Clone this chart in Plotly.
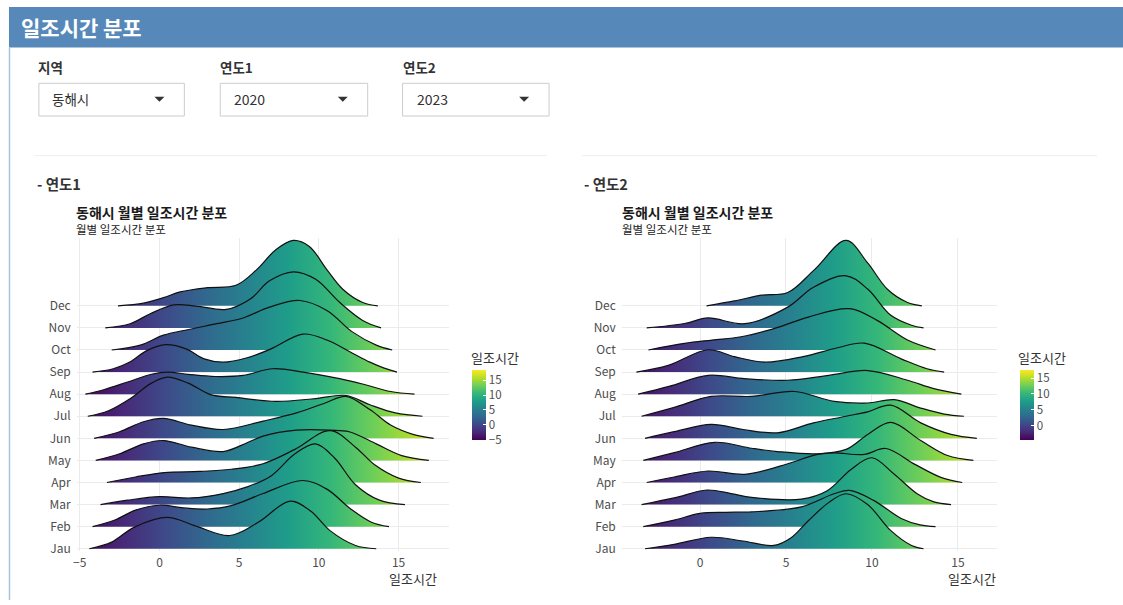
import plotly.graph_objects as go

W, H = 1123, 605
FONT = "Noto Sans CJK KR, Noto Sans, sans-serif"

months = ["Jau", "Feb", "Mar", "Apr", "May", "Jun", "Jul", "Aug", "Sep", "Oct", "Nov", "Dec"]

# density ridges: (sunshine hours, ridge height in row units)
r20_jau = [(-4.4, 0), (-3.0, 0.3), (-1.6, 0.97), (0.5, 1.42), (2.2, 1.05), (4.4, 0.6), (6.2, 1.2), (8.2, 2.16), (9.5, 1.7), (10.7, 0.82), (12.3, 0.15), (13.6, 0)]
r20_feb = [(-4.2, 0), (-2.8, 0.3), (-1.5, 0.75), (0.0, 0.97), (1.5, 0.85), (3.0, 0.8), (4.5, 0.95), (6.5, 1.5), (9.0, 2.09), (10.5, 1.7), (12.0, 0.8), (13.3, 0.2), (14.4, 0)]
r20_mar = [(-3.7, 0), (-2.0, 0.2), (0.0, 0.36), (2.0, 0.3), (4.0, 0.5), (5.5, 0.8), (7.0, 1.3), (8.5, 2.3), (9.8, 2.75), (11.0, 2.1), (12.3, 0.9), (13.8, 0.2), (15.4, 0)]
r20_apr = [(-3.3, 0), (-1.5, 0.25), (0.3, 0.45), (2.5, 0.5), (4.5, 0.6), (6.5, 0.85), (8.5, 1.5), (10.7, 2.35), (12.3, 1.6), (13.5, 0.8), (15.0, 0.2), (16.4, 0)]
r20_may = [(-4.0, 0), (-2.5, 0.3), (-1.0, 0.75), (0.25, 0.9), (2.0, 0.6), (4.0, 0.4), (5.5, 0.8), (6.5, 1.1), (8.6, 1.37), (10.7, 1.37), (11.9, 1.3), (13.6, 0.75), (15.2, 0.22), (16.9, 0)]
r20_jun = [(-4.1, 0), (-2.5, 0.3), (-1.0, 0.75), (0.25, 0.9), (2.0, 0.6), (4.0, 0.4), (6.5, 0.78), (8.6, 1.15), (10.4, 1.6), (11.7, 1.9), (13.2, 1.3), (14.5, 0.6), (15.9, 0.18), (17.2, 0)]
r20_jul = [(-4.5, 0), (-3.2, 0.25), (-1.8, 0.82), (-0.5, 1.5), (0.5, 1.77), (1.8, 1.5), (3.2, 0.98), (4.8, 0.85), (7.3, 0.67), (9.8, 0.8), (11.7, 0.94), (13.2, 0.52), (14.8, 0.15), (16.5, 0)]
r20_aug = [(-4.65, 0), (-3.5, 0.2), (-2.0, 0.55), (-0.5, 0.9), (0.5, 1.0), (1.8, 0.9), (3.5, 0.8), (5.25, 0.85), (7.1, 1.15), (9.0, 1.0), (11.3, 0.7), (12.8, 0.45), (14.5, 0.12), (16.0, 0)]
r20_sep = [(-4.2, 0), (-2.9, 0.15), (-1.8, 0.48), (-0.8, 0.97), (0.4, 1.24), (1.7, 1.04), (2.8, 0.6), (4.0, 0.45), (5.5, 0.65), (7.0, 1.05), (9.0, 1.72), (10.5, 1.45), (12.0, 0.9), (13.2, 0.45), (14.1, 0.18), (14.9, 0)]
r20_oct = [(-3.0, 0), (-1.2, 0.22), (0.25, 0.67), (1.9, 0.94), (3.6, 1.19), (5.25, 1.45), (6.9, 1.94), (8.8, 2.24), (10.5, 1.79), (12.1, 0.82), (13.6, 0.22), (14.6, 0)]
r20_nov = [(-3.4, 0), (-1.84, 0.19), (-0.58, 0.64), (0.9, 1.04), (2.3, 0.99), (4.2, 0.84), (5.7, 1.31), (6.9, 2.13), (8.4, 2.54), (9.8, 2.2), (11.3, 1.16), (12.75, 0.34), (13.9, 0)]
r20_dec = [(-2.6, 0), (-1.0, 0.12), (0.25, 0.37), (1.3, 0.63), (3.0, 0.82), (4.8, 0.93), (6.1, 1.64), (7.3, 2.54), (8.4, 2.96), (9.4, 2.69), (10.5, 1.64), (11.5, 0.75), (12.75, 0.15), (13.7, 0)]

r23_jau = [(-3.2, 0), (-1.5, 0.2), (0.65, 0.52), (2.5, 0.35), (4.3, 0.15), (5.3, 0.5), (6.3, 1.27), (7.5, 2.1), (8.5, 2.49), (9.75, 2.0), (11.1, 0.82), (12.3, 0.15), (13.0, 0)]
r23_feb = [(-3.3, 0), (-1.5, 0.3), (0.0, 0.6), (1.5, 0.65), (3.0, 0.67), (5.9, 0.9), (7.8, 1.49), (8.7, 1.64), (10.1, 1.19), (11.7, 0.37), (12.8, 0.08), (13.7, 0)]
r23_mar = [(-3.4, 0), (-1.5, 0.3), (0.4, 0.66), (1.8, 0.5), (3.0, 0.33), (5.9, 0.25), (7.4, 0.63), (8.8, 1.6), (10.0, 2.12), (11.3, 1.37), (12.65, 0.48), (13.6, 0.12), (14.6, 0)]
r23_apr = [(-3.1, 0), (-1.5, 0.25), (0.47, 0.52), (2.6, 0.37), (4.7, 0.75), (6.85, 1.27), (7.8, 1.34), (9.55, 1.27), (10.8, 1.54), (12.5, 0.82), (14.05, 0.22), (15.25, 0)]
r23_may = [(-3.3, 0), (-1.5, 0.35), (0.86, 0.82), (3.0, 0.55), (4.5, 0.4), (6.85, 0.3), (8.5, 0.5), (9.8, 1.2), (11.1, 1.72), (12.84, 0.9), (14.4, 0.22), (15.9, 0)]
r23_jun = [(-3.2, 0), (-1.5, 0.3), (0.65, 0.63), (2.5, 0.4), (4.5, 0.25), (6.6, 0.7), (8.5, 1.0), (9.75, 1.2), (11.1, 1.5), (12.84, 0.7), (14.6, 0.18), (16.1, 0)]
r23_jul = [(-3.4, 0), (-1.5, 0.4), (0.65, 0.9), (3.0, 0.9), (5.5, 1.12), (7.8, 0.67), (9.75, 0.6), (11.3, 0.75), (12.84, 0.37), (14.2, 0.1), (15.35, 0)]
r23_aug = [(-3.6, 0), (-1.8, 0.35), (0.47, 0.85), (2.6, 0.7), (5.1, 0.63), (7.5, 0.85), (9.75, 1.07), (12.07, 0.63), (13.6, 0.25), (15.2, 0)]
r23_sep = [(-3.7, 0), (-1.85, 0.3), (0.47, 1.01), (2.0, 0.7), (3.8, 0.45), (6.0, 0.7), (8.0, 1.1), (9.55, 1.31), (11.7, 0.6), (13.2, 0.15), (14.2, 0)]
r23_oct = [(-3.0, 0), (-0.9, 0.3), (0.7, 0.45), (2.4, 0.6), (4.3, 0.97), (6.3, 1.49), (8.7, 1.87), (10.3, 1.34), (12.07, 0.45), (13.7, 0)]
r23_nov = [(-3.1, 0), (-0.9, 0.2), (0.47, 0.45), (2.6, 0.19), (5.1, 0.94), (6.6, 1.84), (8.5, 2.36), (9.75, 1.76), (11.1, 0.57), (12.3, 0.12), (13.0, 0)]
r23_dec = [(0.38, 0), (2.0, 0.22), (3.57, 0.48), (5.1, 0.6), (6.66, 1.64), (8.5, 2.96), (9.75, 1.94), (10.9, 0.75), (12.07, 0.15), (12.9, 0)]

ridges_2020 = [r20_jau, r20_feb, r20_mar, r20_apr, r20_may, r20_jun, r20_jul, r20_aug, r20_sep, r20_oct, r20_nov, r20_dec]
ridges_2023 = [r23_jau, r23_feb, r23_mar, r23_apr, r23_may, r23_jun, r23_jul, r23_aug, r23_sep, r23_oct, r23_nov, r23_dec]

fill_range_2020 = [-5.0, 18.6]
fill_range_2023 = [-4.4, 17.65]
ticks_2020 = [-5, 0, 5, 10, 15]
ticks_2023 = [0, 5, 10, 15]


def px(x):
    return x / W


def py(y):
    return 1 - y / H


fig = go.Figure()


def add_ridges(ridges, crange, xa, ya):
    # top row first so lower ridges overlap the ones above (ggridges order)
    for i in range(len(ridges) - 1, -1, -1):
        pts = ridges[i]
        fig.add_trace(go.Scatter(
            x=[p[0] for p in pts],
            y=[i + p[1] for p in pts],
            mode="lines",
            line=dict(color="#111111", width=1.2, shape="spline", smoothing=1.0),
            fill="toself",
            fillgradient=dict(type="horizontal", colorscale="Viridis",
                              start=crange[0], stop=crange[1]),
            xaxis=xa, yaxis=ya, hoverinfo="skip", showlegend=False,
        ))


def add_colorbar(crange, ticks, left_px, xa, ya):
    fig.add_trace(go.Scatter(
        x=[None], y=[None], mode="markers", xaxis=xa, yaxis=ya, showlegend=False,
        marker=dict(
            color=[crange[0]], cmin=crange[0], cmax=crange[1], colorscale="Viridis",
            showscale=True,
            colorbar=dict(
                x=px(left_px), xanchor="left", y=py(408), yanchor="middle",
                len=70, lenmode="pixels", thickness=14, thicknessmode="pixels",
                xpad=0, ypad=0, outlinewidth=0,
                tickvals=ticks, ticks="inside", ticklen=3, tickcolor="white",
                tickfont=dict(size=11.5, color="#4d4d4d", family=FONT),
            ),
        ),
    ))


add_ridges(ridges_2020, fill_range_2020, "x", "y")
add_ridges(ridges_2023, fill_range_2023, "x2", "y2")
add_colorbar(fill_range_2020, ticks_2020, 470, "x", "y")
add_colorbar(fill_range_2023, ticks_2023, 1020, "x2", "y2")

yrange = [-0.12, 14.07]
ydom = [py(556), py(240)]
axis_common = dict(showgrid=True, gridcolor="#ebebeb", gridwidth=1, zeroline=False,
                   showline=False, ticks="", tickfont=dict(size=12, color="#4d4d4d", family=FONT))

fig.update_layout(
    width=W, height=H, autosize=False,
    margin=dict(l=0, r=0, t=0, b=0, pad=0),
    paper_bgcolor="white", plot_bgcolor="white",
    font=dict(family=FONT),
    xaxis=dict(domain=[px(73), px(447)], range=[-5.19, 18.19], tickvals=ticks_2020,
               anchor="y", ticklabelstandoff=3, **axis_common),
    yaxis=dict(domain=ydom, range=yrange, tickvals=list(range(12)), ticktext=months,
               anchor="x", ticklabelstandoff=5, **axis_common),
    xaxis2=dict(domain=[px(620), px(997)], range=[-4.55, 17.3], tickvals=ticks_2023,
                anchor="y2", ticklabelstandoff=3, **axis_common),
    yaxis2=dict(domain=ydom, range=yrange, tickvals=list(range(12)), ticktext=months,
                anchor="x2", ticklabelstandoff=5, **axis_common),
)

shapes = []
# box header and border
shapes.append(dict(type="rect", xref="paper", yref="paper", x0=px(5), x1=1.0, y0=py(48), y1=py(7),
                   fillcolor="#5689ba", line=dict(width=0), layer="below"))
shapes.append(dict(type="line", xref="paper", yref="paper", x0=px(5.5), x1=px(5.5), y0=0, y1=py(48),
                   line=dict(color="#aac3dc", width=1.5)))
# dropdown boxes with carets
for x0, x1 in [(35, 181), (217, 365), (400, 547)]:
    shapes.append(dict(type="rect", xref="paper", yref="paper", x0=px(x0), x1=px(x1), y0=py(117), y1=py(84),
                       fillcolor="white", line=dict(color="#cccccc", width=1)))
    cx = x1 - 25
    shapes.append(dict(type="path", xref="paper", yref="paper",
                       path=f"M {px(cx - 5)},{py(97.5)} L {px(cx + 5)},{py(97.5)} L {px(cx)},{py(102.5)} Z",
                       fillcolor="#333333", line=dict(width=0)))
# separators
for x0, x1 in [(30, 545), (580, 1097)]:
    shapes.append(dict(type="line", xref="paper", yref="paper", x0=px(x0), x1=px(x1), y0=py(157), y1=py(157),
                       line=dict(color="#eeeeee", width=1)))
fig.update_layout(shapes=shapes)


def txt(s, x, y, size, color="#333333", bold=False, xanchor="left"):
    return dict(text=f"<b>{s}</b>" if bold else s, x=px(x), y=py(y), xref="paper", yref="paper",
                showarrow=False, xanchor=xanchor, yanchor="middle",
                font=dict(size=size, color=color, family=FONT))


annotations = [
    txt("일조시간 분포", 15, 27, 21, "white", True),
    txt("지역", 32, 68, 13.5, "#333333", True),
    txt("연도1", 215, 68, 13.5, "#333333", True),
    txt("연도2", 398, 68, 13.5, "#333333", True),
    txt("동해시", 46, 100, 13.5, "#333333"),
    txt("2020", 229, 100, 14, "#333333"),
    txt("2023", 412, 100, 14, "#333333"),
    txt("- 연도1", 31, 185, 14.5, "#333333", True),
    txt("- 연도2", 580, 185, 14.5, "#333333", True),
    txt("동해시 월별 일조시간 분포", 70, 214, 14, "#1a1a1a", True),
    txt("월별 일조시간 분포", 70, 231, 11.5, "#1a1a1a"),
    txt("동해시 월별 일조시간 분포", 618, 214, 14, "#1a1a1a", True),
    txt("월별 일조시간 분포", 618, 231, 11.5, "#1a1a1a"),
    txt("일조시간", 437, 583, 13, "#333333", False, "right"),
    txt("일조시간", 998, 583, 13, "#333333", False, "right"),
    txt("일조시간", 467, 360, 13, "#333333"),
    txt("일조시간", 1016, 360, 13, "#333333"),
]
fig.update_layout(annotations=annotations)

fig.write_html("out.html", config={"displayModeBar": False},
               post_script="document.body.style.margin='0';")
